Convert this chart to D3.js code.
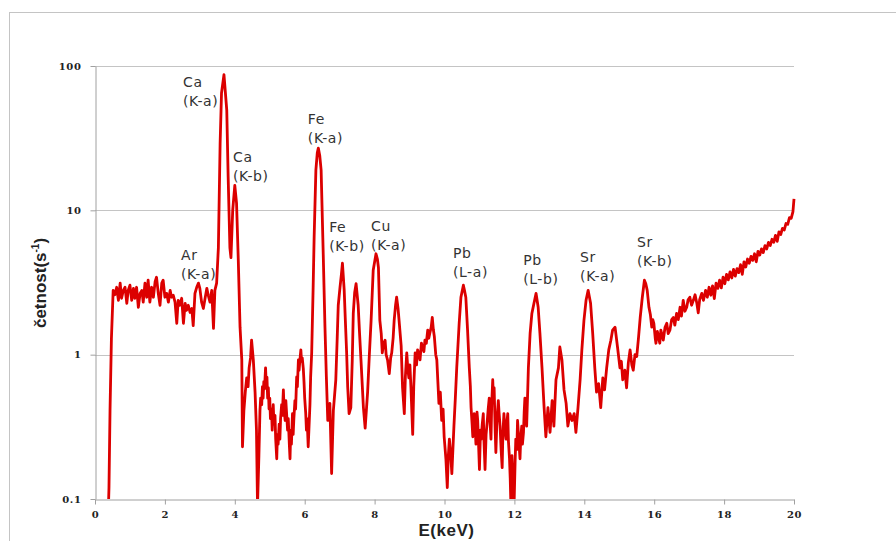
<!DOCTYPE html>
<html>
<head>
<meta charset="utf-8">
<script src="https://cdn.jsdelivr.net/npm/d3@7"></script>
<style>
  body { margin: 0; background: #fff; }
  svg { display: block; }
</style>
</head>
<body>
<div id="chart"></div>
<script>
// energy channel (keV)
const energyKeV = [
  0.38, 0.40, 0.43, 0.47, 0.52, 0.57, 0.62, 0.67, 0.72, 0.76,
  0.81, 0.86, 0.91, 0.95, 1.00, 1.05, 1.10, 1.14, 1.19, 1.24,
  1.29, 1.34, 1.38, 1.43, 1.48, 1.52, 1.57, 1.62, 1.67, 1.72,
  1.76, 1.81, 1.86, 1.91, 1.95, 2.00, 2.05, 2.10, 2.15, 2.19,
  2.24, 2.29, 2.34, 2.38, 2.43, 2.48, 2.53, 2.58, 2.62, 2.67,
  2.72, 2.77, 2.81, 2.86, 2.91, 2.96, 3.00, 3.05, 3.10, 3.15,
  3.20, 3.24, 3.29, 3.34, 3.39, 3.43, 3.48, 3.53, 3.58, 3.62,
  3.69, 3.77, 3.81, 3.86, 3.89, 3.94, 4.00, 4.05, 4.10, 4.15,
  4.20, 4.22, 4.26, 4.30, 4.34, 4.38, 4.41, 4.45, 4.48, 4.53,
  4.58, 4.62, 4.65, 4.69,
  4.72, 4.74, 4.77, 4.79, 4.81, 4.83, 4.85, 4.88, 4.90, 4.92,
  4.94, 4.96, 4.98, 5.00, 5.02, 5.05, 5.07, 5.10, 5.12, 5.15,
  5.17, 5.20, 5.22, 5.24, 5.27, 5.29, 5.31, 5.34, 5.36, 5.39,
  5.41, 5.44, 5.46, 5.48, 5.51, 5.53, 5.56, 5.58, 5.60, 5.62,
  5.65, 5.67, 5.69, 5.72, 5.74, 5.77, 5.79, 5.82, 5.84, 5.86,
  5.89, 5.91, 5.93, 5.96, 5.98, 6.00, 6.03, 6.05, 6.07, 6.10,
  6.12, 6.15, 6.17, 6.20,
  6.24, 6.27, 6.32, 6.36, 6.39, 6.43, 6.47, 6.53, 6.58, 6.62,
  6.66, 6.72, 6.77, 6.82, 6.89, 6.93, 6.96, 7.01, 7.05, 7.08,
  7.13, 7.16, 7.20, 7.23, 7.27, 7.32, 7.36, 7.39, 7.43, 7.47,
  7.53, 7.57, 7.61, 7.68, 7.73, 7.80, 7.85, 7.90, 7.96, 8.04,
  8.08, 8.11, 8.15, 8.19, 8.22, 8.26, 8.30, 8.33, 8.37, 8.42,
  8.46, 8.49, 8.53, 8.56, 8.60, 8.63, 8.67, 8.70, 8.76, 8.80,
  8.85, 8.88, 8.92, 8.95, 8.98, 9.01, 9.04, 9.09, 9.12, 9.16,
  9.20, 9.23, 9.27, 9.30, 9.34, 9.37, 9.41, 9.44, 9.48, 9.52,
  9.55, 9.58, 9.62, 9.65, 9.68, 9.71, 9.75, 9.78, 9.81, 9.84,
  9.88, 9.92, 9.96, 9.99, 10.04, 10.08, 10.11, 10.14, 10.18, 10.21,
  10.24, 10.27, 10.31, 10.35, 10.42, 10.47, 10.54, 10.57, 10.61, 10.66,
  10.71, 10.74, 10.76, 10.79, 10.81, 10.83, 10.85, 10.88, 10.90, 10.93,
  10.95, 10.98, 11.00, 11.03, 11.05, 11.08, 11.11, 11.13, 11.16, 11.19,
  11.22, 11.25, 11.28, 11.30, 11.33, 11.35, 11.38, 11.40, 11.42, 11.45,
  11.47, 11.50, 11.54, 11.56, 11.59, 11.62, 11.65, 11.67, 11.70, 11.73,
  11.76, 11.78, 11.81, 11.83, 11.86, 11.88, 11.90, 11.93, 11.95, 11.97,
  11.99, 12.02, 12.04, 12.07, 12.09, 12.12, 12.16, 12.18, 12.21, 12.23,
  12.26, 12.28, 12.30, 12.33, 12.35, 12.38, 12.40,
  12.45, 12.50, 12.56, 12.62, 12.68, 12.73,
  12.79, 12.85, 12.90, 12.96, 13.02, 13.08, 13.13, 13.19, 13.26, 13.30,
  13.36, 13.42, 13.48, 13.53, 13.59, 13.65, 13.71, 13.76, 13.82, 13.88,
  13.93, 13.99, 14.05, 14.11, 14.18, 14.24, 14.30, 14.35, 14.41, 14.47,
  14.53, 14.58, 14.64, 14.70, 14.76, 14.81, 14.88, 14.95, 15.02, 15.06,
  15.10, 15.16, 15.21, 15.26, 15.31, 15.36, 15.40, 15.45, 15.50, 15.55,
  15.60, 15.66, 15.72, 15.76, 15.80, 15.85, 15.89, 15.93, 15.96, 15.99,
  16.03, 16.05, 16.09, 16.12, 16.16, 16.19, 16.23, 16.26, 16.31, 16.36,
  16.40, 16.45, 16.50, 16.55, 16.59, 16.64, 16.69, 16.74, 16.78, 16.83,
  16.88, 16.93, 16.97, 17.02, 17.07, 17.12, 17.17, 17.22, 17.26, 17.30,
  17.36, 17.41, 17.47, 17.52, 17.57, 17.62, 17.67, 17.72, 17.77, 17.82,
  17.87, 17.92, 17.97, 18.02, 18.07, 18.12, 18.17, 18.22, 18.27, 18.32,
  18.37, 18.42, 18.47, 18.52, 18.57, 18.62, 18.67, 18.72, 18.77, 18.82,
  18.87, 18.92, 18.97, 19.02, 19.07, 19.12, 19.17, 19.22, 19.27, 19.32,
  19.37, 19.42, 19.47, 19.52, 19.57, 19.62, 19.67, 19.72, 19.77, 19.82,
  19.87, 19.92, 19.97, 20.00
];

// count rate (1/s), same order as energyKeV
const countRate = [
  0.08, 0.12, 0.41, 1.3, 2.79, 2.6, 2.93, 2.38, 3.13, 2.46,
  2.79, 2.93, 2.27, 2.79, 3.03, 2.38, 2.88, 2.46, 2.93, 2.13,
  2.66, 2.79, 2.31, 3.13, 2.5, 3.28, 2.31, 2.93, 2.5, 3.2,
  3.44, 2.66, 2.2, 3.13, 3.28, 2.5, 2.66, 2.31, 2.79, 2.5,
  2.58, 2.31, 1.65, 2.38, 2.2, 2.46, 1.65, 2.27, 2.03, 2.2,
  1.96, 2.09, 1.59, 2.66, 2.93, 3.13, 2.88, 2.31, 2.09, 2.46,
  2.88, 2.58, 2.31, 2.79, 1.52, 2.79, 3.13, 5.5, 29, 65,
  87, 49.5, 17, 5.5, 4.7, 10, 14.9, 11.2, 4.5, 1.55,
  0.92, 0.23, 0.41, 0.55, 0.69, 0.6, 0.81, 0.95, 1.26, 0.92,
  0.55, 0.3, 0.09, 0.2,
  0.41, 0.5, 0.45, 0.6, 0.5, 0.65, 0.58, 0.81, 0.62, 0.7,
  0.5, 0.59, 0.42, 0.5, 0.36, 0.42, 0.3, 0.45, 0.33, 0.38,
  0.26, 0.19, 0.28, 0.24, 0.33, 0.26, 0.36, 0.45, 0.38, 0.57,
  0.42, 0.35, 0.48, 0.40, 0.3, 0.36, 0.24, 0.19, 0.3, 0.24,
  0.39, 0.28, 0.36, 0.48, 0.42, 0.7, 0.6, 0.92, 0.78, 0.9,
  1.08, 0.9, 0.95, 0.8, 0.65, 0.5, 0.39, 0.3, 0.36, 0.23,
  0.3, 0.45, 0.7, 1.03,
  2.8, 6.5, 19, 25, 27, 24, 19, 5.0, 1.55, 0.7,
  0.35, 0.46, 0.15, 0.41, 0.67, 1.3, 2.2, 2.93, 3.6, 4.3,
  2.8, 1.8, 1.03, 0.6, 0.39, 0.43, 0.9, 1.93, 2.7, 3.1,
  2.2, 1.4, 0.92, 0.43, 0.31, 0.55, 1.0, 1.73, 3.84, 5.0,
  4.6, 4.0, 1.73, 1.4, 1.03, 1.2, 1.26, 1.0, 0.92, 0.74,
  0.95, 1.03, 1.3, 1.73, 2.2, 2.5, 2.1, 1.73, 1.15, 0.59,
  0.39, 0.7, 1.03, 0.8, 0.69, 0.85, 0.59, 0.28, 0.6, 1.03,
  0.85, 1.08, 1.0, 0.92, 1.2, 1.13, 1.05, 1.26, 1.2, 1.48,
  1.3, 1.41, 1.55, 1.81, 1.5, 1.33, 1.0, 0.92, 0.65, 0.46,
  0.55, 0.35, 0.42, 0.27, 0.19, 0.12, 0.2, 0.26, 0.2, 0.15,
  0.22, 0.32, 0.5, 0.81, 1.65, 2.5, 3.03, 2.8, 2.5, 1.48,
  0.81, 0.6, 0.43, 0.33, 0.27, 0.35, 0.39, 0.3, 0.24, 0.4,
  0.35, 0.22, 0.16, 0.3, 0.26, 0.33, 0.39, 0.25, 0.16, 0.28,
  0.34, 0.42, 0.5, 0.35, 0.26, 0.45, 0.67, 0.5, 0.59, 0.3,
  0.21, 0.35, 0.48, 0.4, 0.32, 0.22, 0.165, 0.28, 0.39, 0.3,
  0.26, 0.33, 0.39, 0.25, 0.19, 0.14, 0.09, 0.2, 0.15, 0.12,
  0.09, 0.18, 0.26, 0.22, 0.35, 0.27, 0.19, 0.26, 0.32, 0.24,
  0.29, 0.4, 0.5, 0.38, 0.32, 0.55, 0.81,
  1.41, 1.93, 2.27, 2.66, 2.13, 1.41,
  0.81, 0.43, 0.27, 0.43, 0.29, 0.48, 0.32, 0.67, 0.81, 1.13,
  0.92, 0.57, 0.46, 0.32, 0.39, 0.35, 0.39, 0.29, 0.43, 0.67,
  1.08, 1.73, 2.38, 2.79, 2.27, 1.41, 0.81, 0.55, 0.63, 0.43,
  0.69, 0.57, 0.81, 1.08, 1.26, 1.48, 1.55, 1.13, 0.81, 0.9,
  0.67, 0.78, 0.59, 0.88, 1.08, 0.85, 0.78, 1.0, 0.97, 1.3,
  1.81, 2.5, 3.28, 3.1, 2.79, 2.13, 1.9, 1.55, 1.75, 1.65,
  1.3, 1.2, 1.45, 1.33, 1.2, 1.48, 1.35, 1.26, 1.55, 1.65,
  1.4, 1.48, 1.75, 1.81, 1.6, 1.93, 1.75, 2.13, 1.85, 2.38,
  2.0, 2.13, 2.4, 2.5, 2.2, 2.38, 2.6, 2.27, 1.95, 2.4,
  2.66, 2.38, 2.79, 2.5, 2.93, 2.58, 3.0, 2.45, 3.13, 2.88,
  3.28, 2.9, 3.44, 3.1, 3.6, 3.3, 3.75, 3.4, 3.9, 3.5,
  3.95, 3.7, 4.2, 3.6, 4.4, 4.05, 4.6, 4.3, 4.8, 4.5,
  5.0, 4.4, 5.2, 4.9, 5.4, 5.1, 5.7, 5.4, 6.0, 5.7,
  6.3, 6.0, 6.7, 6.1, 7.1, 6.8, 7.5, 7.3, 8.1, 8.0,
  8.9, 8.8, 9.8, 12
];

const xTicks = [0, 2, 4, 6, 8, 10, 12, 14, 16, 18, 20];
const yTicks = [0.1, 1, 10, 100];

// peak annotations: element, line, and where the text box sits (keV, 1/s)
const peakElement = ["Ca", "Ca", "Ar", "Fe", "Fe", "Cu", "Pb", "Pb", "Sr", "Sr"];
const peakLine = ["(K-a)", "(K-b)", "(K-a)", "(K-a)", "(K-b)", "(K-a)", "(L-a)", "(L-b)", "(K-a)", "(K-b)"];
const labelKeV = [2.52, 3.95, 2.46, 6.09, 6.70, 7.90, 10.24, 12.25, 13.88, 15.51];
const labelRate = [71, 21.5, 4.51, 39.4, 7.05, 7.16, 4.66, 4.16, 4.37, 5.55];

const width = 896, height = 541;
const plotLeft = 95, plotRight = 794, plotTop = 66, plotBottom = 499;

const svg = d3.select("#chart").append("svg")
  .attr("width", width)
  .attr("height", height);

// chart area frame (only top/left visible in the picture)
svg.append("rect")
  .attr("x", 9.5).attr("y", 12.5)
  .attr("width", 920).attr("height", 560)
  .attr("fill", "none")
  .attr("stroke", "#c4c4c4");

const x = d3.scaleLinear().domain([0, 20]).range([plotLeft, plotRight]);
const y = d3.scaleLog().domain([0.1, 100]).range([plotBottom, plotTop]);

// gridlines
svg.append("g")
  .selectAll("line")
  .data(yTicks.filter(d => d > 0.1))
  .join("line")
  .attr("x1", plotLeft).attr("x2", plotRight)
  .attr("y1", d => Math.round(y(d)) + 0.5)
  .attr("y2", d => Math.round(y(d)) + 0.5)
  .attr("stroke", "#c4c4c4");

const tickFont = "'DejaVu Serif', serif";

svg.append("g")
  .attr("transform", `translate(${plotLeft + 0.5},0)`)
  .call(d3.axisLeft(y).tickValues(yTicks).tickFormat(d => String(d)).tickSize(5).tickSizeOuter(0).tickPadding(9))
  .call(g => g.select(".domain").attr("stroke", "#a0a0a0"))
  .call(g => g.selectAll(".tick line").attr("stroke", "#a0a0a0"))
  .call(g => g.selectAll(".tick text")
    .attr("font-family", tickFont)
    .attr("font-weight", "bold")
    .attr("font-size", 10)
    .attr("letter-spacing", 0.6)
    .attr("fill", "#222"));

svg.append("g")
  .attr("transform", `translate(0,${plotBottom + 0.5})`)
  .call(d3.axisBottom(x).tickValues(xTicks).tickFormat(d => String(d)).tickSize(5).tickSizeOuter(0).tickPadding(6))
  .call(g => g.select(".domain").attr("stroke", "#a0a0a0"))
  .call(g => g.selectAll(".tick line").attr("stroke", "#a0a0a0"))
  .call(g => g.selectAll(".tick text")
    .attr("font-family", tickFont)
    .attr("font-weight", "bold")
    .attr("font-size", 10)
    .attr("letter-spacing", 0.6)
    .attr("fill", "#222"));

// spectrum
svg.append("clipPath").attr("id", "plotClip")
  .append("rect")
  .attr("x", plotLeft).attr("y", plotTop - 20)
  .attr("width", plotRight - plotLeft + 4).attr("height", plotBottom - plotTop + 20);

const line = d3.line()
  .x(i => x(energyKeV[i]))
  .y(i => y(countRate[i]));

svg.append("path")
  .datum(d3.range(energyKeV.length))
  .attr("clip-path", "url(#plotClip)")
  .attr("fill", "none")
  .attr("stroke", "#dc0000")
  .attr("stroke-width", 2.8)
  .attr("stroke-linejoin", "round")
  .attr("d", line);

// peak labels
const labels = svg.append("g")
  .attr("font-family", "'DejaVu Sans', sans-serif")
  .attr("font-size", 14)
  .attr("letter-spacing", 0.6)
  .attr("fill", "#333");

peakElement.forEach((el, i) => {
  const t = labels.append("text")
    .attr("x", x(labelKeV[i]))
    .attr("y", y(labelRate[i]));
  t.append("tspan").text(el);
  t.append("tspan").attr("x", x(labelKeV[i])).attr("dy", 19).text(peakLine[i]);
});

// axis titles
svg.append("text")
  .attr("transform", "translate(46,283) rotate(-90)")
  .attr("text-anchor", "middle")
  .attr("font-family", "'Liberation Sans', Arial, sans-serif")
  .attr("font-weight", "bold")
  .attr("font-size", 17)
  .attr("fill", "#222")
  .call(t => {
    t.append("tspan").text("četnost(s");
    t.append("tspan").attr("font-size", 10).attr("dy", -7).text("-1");
    t.append("tspan").attr("dy", 7).text(")");
  });

svg.append("text")
  .attr("x", (plotLeft + plotRight) / 2 + 2)
  .attr("y", 536)
  .attr("text-anchor", "middle")
  .attr("font-family", "'Liberation Sans', Arial, sans-serif")
  .attr("font-weight", "bold")
  .attr("font-size", 17)
  .attr("letter-spacing", 0.5)
  .attr("fill", "#222")
  .text("E(keV)");
</script>
</body>
</html>
